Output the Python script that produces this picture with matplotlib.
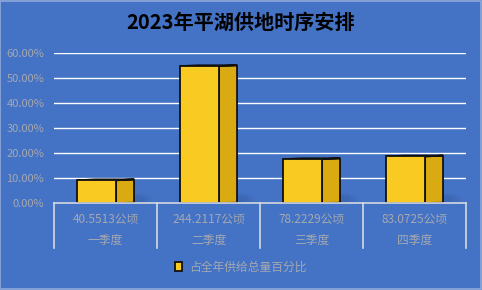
import numpy as np
import matplotlib
matplotlib.use('Agg')
import matplotlib.pyplot as plt
from matplotlib.patches import Rectangle, Ellipse

plt.rcParams['font.family'] = ['Noto Sans CJK SC', 'DejaVu Sans']

quarters = ['一季度', '二季度', '三季度', '四季度']
areas = [40.5513, 244.2117, 78.2229, 83.0725]  # 公顷
series_name = '占全年供给总量百分比'
y_ticks = [0, 10, 20, 30, 40, 50, 60]

shares = np.array(areas) / sum(areas) * 100

bg = '#4472C4'
front_col = '#F9CA21'
side_col = '#D9AA11'
text_col = '#A5A8B0'
fs = 8.5

fig = plt.figure(figsize=(4.82, 2.90), dpi=100, facecolor=bg)
ax = fig.add_axes([54 / 482, 1 - 203 / 290, 412 / 482, 150 / 290])
ax.set_facecolor(bg)
ax.set_xlim(-0.5, 3.5)
ax.set_ylim(0, 60)
for s in ax.spines.values():
    s.set_visible(False)

# gridlines
for v in y_ticks[1:]:
    ax.axhline(v, color='white', lw=1, zorder=1)
ax.set_yticks(y_ticks, [f'{v:.2f}%' for v in y_ticks])
ax.tick_params(axis='y', length=0, pad=7, labelcolor=text_col, labelsize=8)
ax.set_xticks([])

# 3d-looking bars: front face, side face, thin top
fw, dw, dy = 0.38, 0.174, 0.35
for i, v in enumerate(shares):
    x0 = i - 0.277
    x1 = x0 + fw
    x2 = x1 + dw
    # soft shadow behind the right side
    for k, a in enumerate([0.05, 0.06, 0.07]):
        ax.add_patch(Ellipse((x2 + 0.02, 1.5), 0.32 - 0.08 * k, 5 - 1.2 * k,
                             color='#1F3A70', alpha=a, lw=0, zorder=1.5))
    ax.fill([x1, x2, x2, x1], [0, dy * 0.3, v + dy, v], color=side_col,
            ec='#111111', lw=1.3, zorder=2, joinstyle='round')
    ax.fill([x0, x1, x2, x0 + dw], [v, v, v + dy, v + dy], color='#C99C0E',
            ec='#111111', lw=1.3, zorder=2)
    ax.bar(x0, v, width=fw, align='edge', color=front_col, ec='#111111',
           lw=1.3, zorder=3, label=series_name if i == 0 else None)

# category table under the axis
tr = ax.get_xaxis_transform()
ax.plot([-0.5, 3.5], [0, 0], transform=tr, color='#D6D9E0', lw=1.2,
        clip_on=False, zorder=4)
for b in np.arange(-0.5, 4, 1):
    ax.plot([b, b], [0, -0.30], transform=tr, color='#D6D9E0', lw=1.2,
            clip_on=False)
for i, (q, a) in enumerate(zip(quarters, areas)):
    ax.text(i, -0.107, f'{a:.4f}公顷', transform=tr, ha='center', va='center',
            color=text_col, fontsize=fs)
    ax.text(i, -0.247, q, transform=tr, ha='center', va='center',
            color=text_col, fontsize=fs)

fig.text(0.5, 1 - 22 / 290, '2023年平湖供地时序安排', ha='center', va='center',
         fontsize=14.5, fontweight='bold', color='black')

leg = ax.legend(loc='center', bbox_to_anchor=(0.5, 1 - 267 / 290),
                bbox_transform=fig.transFigure, frameon=False,
                handlelength=0.55, handleheight=0.75, handletextpad=0.6,
                fontsize=fs)
for t in leg.get_texts():
    t.set_color(text_col)

# thin light frame round the chart
fig.patches.append(Rectangle((0.001, 0.002), 0.997, 0.995, transform=fig.transFigure,
                             fill=False, ec='#8FA9DA', lw=1.2))

fig.savefig('out.png', dpi=100, facecolor=bg)
